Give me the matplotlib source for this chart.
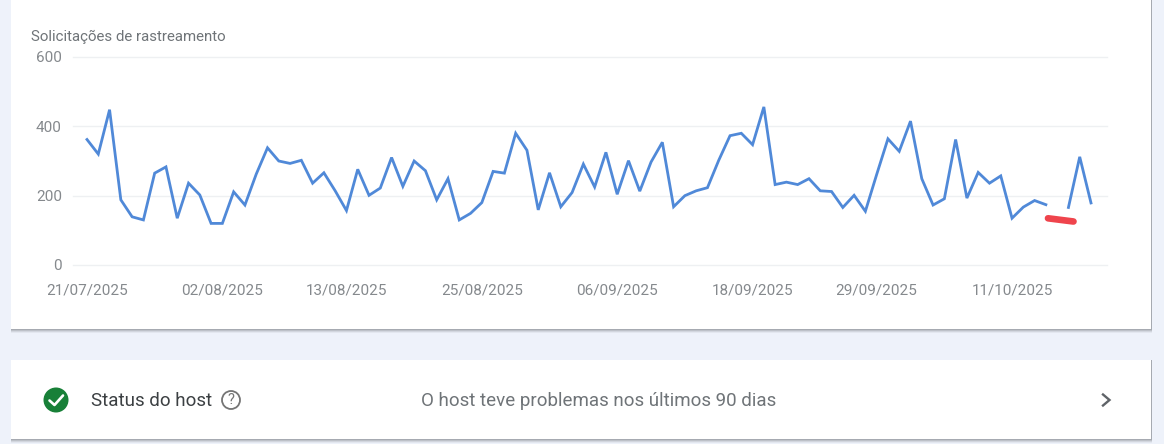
import matplotlib
matplotlib.use("Agg")
import matplotlib.pyplot as plt
import matplotlib.dates as mdates
from matplotlib.patches import Rectangle, Circle
import numpy as np
import pandas as pd

plt.rcParams['font.family'] = ['Roboto', 'DejaVu Sans']

# crawl requests per day, one missing day near the end
requests = [362, 320, 448, 188, 139, 130, 265, 283, 135, 236,
            202, 120, 120, 211, 173, 262, 338, 300, 293, 302,
            236, 266, 214, 157, 276, 201, 222, 310, 227, 300,
            272, 188, 249, 130, 149, 180, 270, 265, 380, 331,
            159, 266, 168, 209, 291, 225, 325, 204, 301, 213,
            297, 354, 168, 200, 214, 223, 302, 373, 380, 347,
            456, 232, 239, 232, 249, 214, 212, 166, 201, 155,
            261, 364, 328, 415, 249, 173, 191, 362, 193, 267,
            236, 257, 135, 167, 186, 174, np.nan, 166, 312, 179]
start_date = "2025-07-21"
date_labels = ["21/07/2025", "02/08/2025", "13/08/2025", "25/08/2025",
               "06/09/2025", "18/09/2025", "29/09/2025", "11/10/2025"]
y_ticks = [0, 200, 400, 600]

title = "Solicitações de rastreamento"
host_label = "Status do host"
host_message = "O host teve problemas nos últimos 90 dias"

W, H = 1164, 444
BG = '#eef2fa'
GREY = '#85898d'


def card(ax, x0, y0, x1, y1):
    # soft shadow, stacked thin rectangles
    for i, a in zip(range(4, 0, -1), [0.07, 0.12, 0.18, 0.24]):
        ax.add_patch(Rectangle((x0 - 0.5, y0), x1 - x0 + 1, y1 - y0 + i,
                               fc='#5f6368', ec='none', alpha=a, zorder=1))
    ax.add_patch(Rectangle((x0, y0), x1 - x0, y1 - y0, fc='white', ec='none', zorder=2))


def main():
    fig = plt.figure(figsize=(W / 100, H / 100), dpi=100, facecolor=BG)

    # page layer in pixel coordinates
    page = fig.add_axes([0, 0, 1, 1])
    page.set_xlim(0, W)
    page.set_ylim(H, 0)
    page.axis('off')
    card(page, 11, -10, 1151, 329)
    card(page, 11, 360, 1151, 439)

    page.text(31, 36.5, title, fontsize=10.8, color='#6f7478', va='center', zorder=3)

    # host status row
    page.add_patch(Circle((56, 400), 12.5, fc='#188038', ec='none', zorder=3))
    page.plot([49.5, 54.5, 63], [400.5, 405, 395.5], color='white', lw=1.9, zorder=4,
              solid_capstyle='round', solid_joinstyle='round')
    page.text(91, 401, host_label, fontsize=13.5, color='#3c4043', va='center', zorder=3)
    page.add_patch(Circle((231, 400), 9, fc='none', ec='#757575', lw=1.3, zorder=3))
    page.text(231, 400.3, "?", fontsize=10.5, color='#757575', ha='center', va='center', zorder=3)
    page.text(598.5, 401, host_message, fontsize=13.5, color='#6f7478',
              ha='center', va='center', zorder=3)
    page.plot([1103, 1109.5, 1103], [394.5, 400, 405.5], color='#5f6368', lw=1.7, zorder=3,
              solid_joinstyle='miter')

    # chart
    ax = fig.add_axes([73 / W, 1 - 265 / H, (1107 - 73) / W, (265 - 57) / H])
    ax.patch.set_alpha(0)
    dates = pd.date_range(start_date, periods=len(requests), freq='D')
    px_per_day = (1091 - 87) / (len(requests) - 1)
    ax.plot(dates, requests, color='#5089d8', lw=2.0, solid_joinstyle='miter', zorder=3)

    ax.set_xlim(dates[0] - pd.Timedelta(days=(87 - 73) / px_per_day),
                dates[-1] + pd.Timedelta(days=(1107 - 1091) / px_per_day))
    ax.set_ylim(0, 600)
    ax.set_yticks(y_ticks)
    ax.set_xticks(pd.to_datetime(date_labels, format="%d/%m/%Y"))
    ax.xaxis.set_major_formatter(mdates.DateFormatter("%d/%m/%Y"))
    ax.tick_params(axis='both', length=0, labelcolor=GREY, labelsize=11.0)
    ax.tick_params(axis='x', pad=13)
    ax.tick_params(axis='y', pad=8)
    ax.grid(axis='y', color='#eef0f2', lw=1)
    ax.grid(axis='x', visible=False)
    ax.set_axisbelow(True)
    for spine in ax.spines.values():
        spine.set_visible(False)
    for gl in ax.get_ygridlines():
        gl.set_clip_on(False)

    # red pen stroke over the gap
    over = fig.add_axes([0, 0, 1, 1])
    over.set_xlim(0, W)
    over.set_ylim(H, 0)
    over.axis('off')
    over.plot([1048, 1073.5], [218.3, 221.5], color='#ef444c', lw=4.8, solid_capstyle='round')

    fig.savefig("out.png", dpi=100, facecolor=BG)


if __name__ == "__main__":
    main()
